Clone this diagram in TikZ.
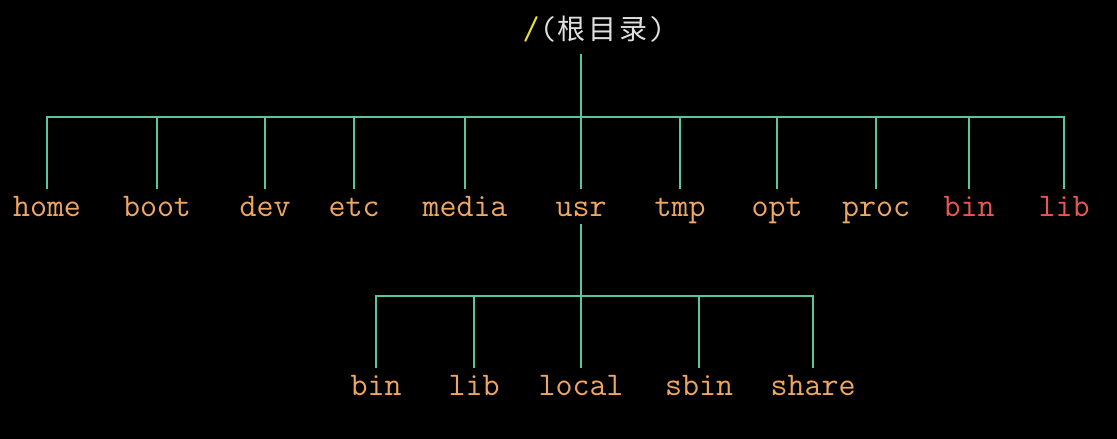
\documentclass[tikz,border=0pt]{standalone}
\usepackage{fontspec}
\newfontfamily\cjk{Noto Sans CJK SC}
\usepackage{tikz}
\usepackage{xcolor}

\definecolor{dirorange}{RGB}{238,166,98}
\definecolor{dirred}{RGB}{234,86,80}
\definecolor{linkgreen}{RGB}{84,198,160}
\definecolor{slashyellow}{RGB}{232,222,52}
\definecolor{rootgray}{RGB}{224,224,224}

\begin{document}
\begin{tikzpicture}[x=1pt, y=-1pt,
  every node/.style = { anchor=base, inner sep=0pt, inner ysep=9pt,
	text height=19pt, text depth=0pt, text=dirorange,
	font=\ttfamily\fontsize{33}{33}\selectfont},
  sysdir/.style = {text=dirred},
  rootdir/.style = {text=rootgray, text height=20pt, text depth=5pt, inner ysep=11pt},
  link/.style = {draw=linkgreen, line width=2pt, line cap=rect}]

\fill[black] (0,0) rectangle (1117,439);
\useasboundingbox (0,0) rectangle (1117,439);

\node[rootdir] (root) at (594,39)
	 {\textcolor{slashyellow}{/}(\kern1pt{\cjk\fontsize{28}{28}\selectfont 根\kern3pt 目\kern3pt 录}\kern1pt)};

\node (home)  at (47,216)   {home};
\node (boot)  at (157,216)  {boot};
\node (dev)   at (265,216)  {dev};
\node (etc)   at (354,216)  {etc};
\node (media) at (465,216)  {media};
\node (usr)   at (581,216)  {usr};
\node (tmp)   at (680,216)  {tmp};
\node (opt)   at (777,216)  {opt};
\node (proc)  at (876,216)  {proc};
\node[sysdir] (bin) at (969,216)  {bin};
\node[sysdir] (lib) at (1064,216) {lib};

\node (ubin)   at (376,395) {bin};
\node (ulib)   at (474,395) {lib};
\node (ulocal) at (581,395) {local};
\node (usbin)  at (699,395) {sbin};
\node (ushare) at (813,395) {share};

\coordinate (bar) at (0,117);
\coordinate (subbar) at (0,296);

\draw[link] (root.south -| usr.north) -- (usr.north);
\draw[link] (home.north |- bar) -- (lib.north |- bar);
\foreach \dir in {home,boot,dev,etc,media,tmp,opt,proc,bin,lib}
	 \draw[link] (\dir.north |- bar) -- (\dir.north);

\draw[link] (usr.south) -- (ulocal.north);
\draw[link] (ubin.north |- subbar) -- (ushare.north |- subbar);
\foreach \dir in {ubin,ulib,usbin,ushare}
	 \draw[link] (\dir.north |- subbar) -- (\dir.north);
\end{tikzpicture}
\end{document}
